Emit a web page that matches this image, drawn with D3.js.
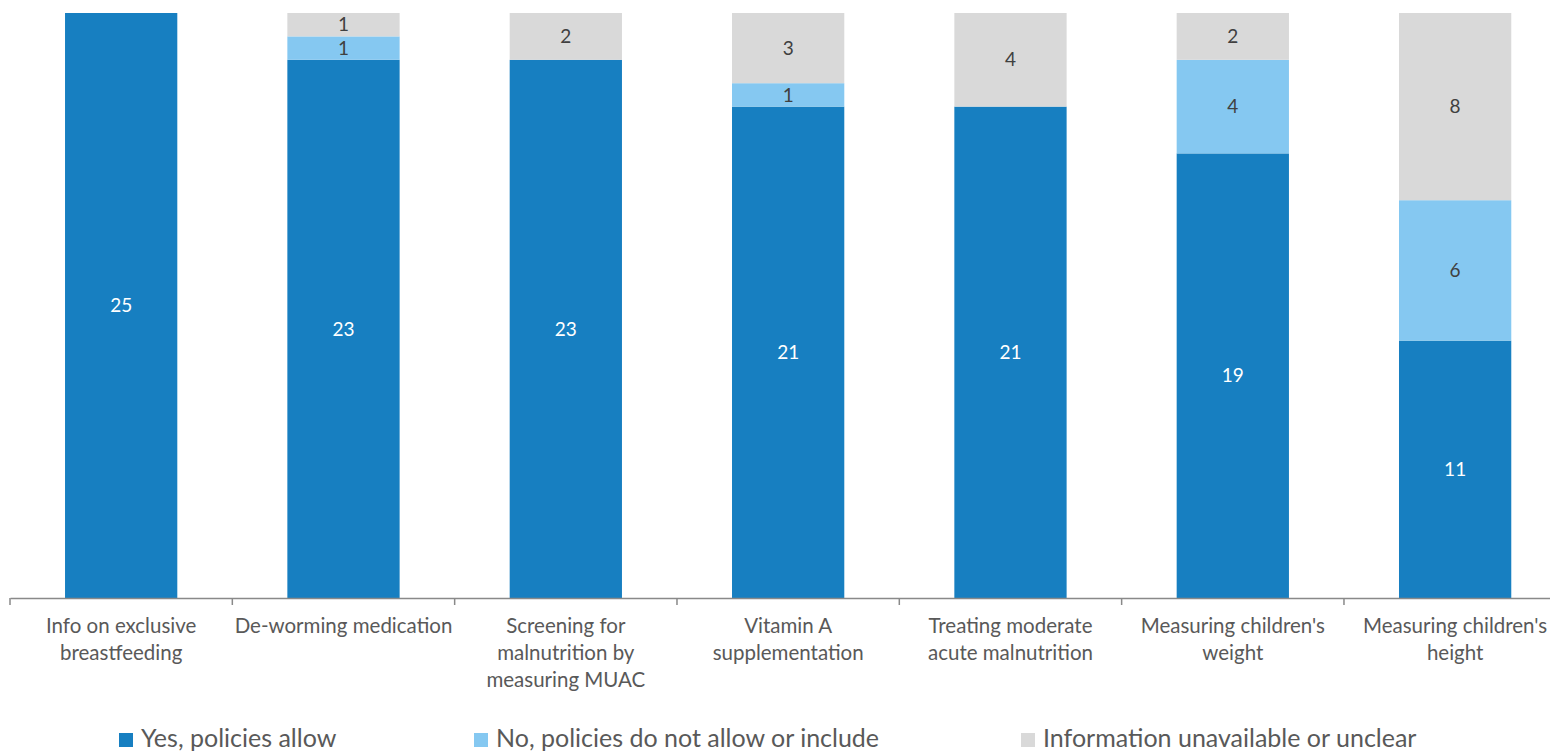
<!DOCTYPE html>
<html><head><meta charset="utf-8">
<script src="https://cdn.jsdelivr.net/npm/d3@7"></script>
<style>
html,body{margin:0;padding:0;background:#fff;}
svg{display:block;font-family:Lato, "Noto Sans", sans-serif;}
</style></head>
<body><svg id="chart" width="1550" height="755"></svg>
<script>
const categories = [
  ["Info on exclusive","breastfeeding"],
  ["De-worming medication"],
  ["Screening for","malnutrition by","measuring MUAC"],
  ["Vitamin A","supplementation"],
  ["Treating moderate","acute malnutrition"],
  ["Measuring children's","weight"],
  ["Measuring children's","height"]
];
const seriesNames = ["Yes, policies allow","No, policies do not allow or include","Information unavailable or unclear"];
const yesValues = [25,23,23,21,21,19,11];
const noValues = [0,1,0,1,0,4,6];
const unclearValues = [0,1,2,3,4,2,8];
const colors = ["#177FC1","#85C8F1","#D9D9D9"];
const labelColors = ["#ffffff","#404040","#404040"];

const svg = d3.select("#chart");
const keys = categories.map((c,i)=>"c"+i);
const x = d3.scaleBand().domain(keys).range([10,1566.3]).paddingInner(0.495).paddingOuter(0.2475);
const y = d3.scaleLinear().domain([0,25]).range([598,13]);

const rows = keys.map((k,i)=>({key:k, s0:yesValues[i], s1:noValues[i], s2:unclearValues[i]}));
const stack = d3.stack().keys(["s0","s1","s2"])(rows);

const g = svg.append("g");
stack.forEach((layer,si)=>{
  const lg = g.append("g");
  lg.selectAll("rect").data(layer).join("rect")
    .attr("x",d=>x(d.data.key))
    .attr("width",x.bandwidth())
    .attr("y",d=>y(d[1]))
    .attr("height",d=>y(d[0])-y(d[1]))
    .attr("fill",colors[si]);
  lg.selectAll("text").data(layer.filter(d=>d[1]-d[0]>0)).join("text")
    .attr("x",d=>x(d.data.key)+x.bandwidth()/2)
    .attr("y",d=>(y(d[0])+y(d[1]))/2)
    .attr("dy","0.35em")
    .attr("text-anchor","middle")
    .attr("font-size",19)
    .attr("fill",labelColors[si])
    .text(d=>d[1]-d[0]);
});

// axis
const axis = d3.axisBottom(x).tickSize(0).tickFormat("");
const ax = svg.append("g").attr("transform","translate(0,598)").call(axis);
ax.select(".domain").attr("stroke","#898989").attr("stroke-width",1.5);
const step = x.step();
const tickPos = d3.range(keys.length+1).map(i=>10+i*step);
svg.append("g").selectAll("line").data(tickPos).join("line")
  .attr("x1",d=>d).attr("x2",d=>d).attr("y1",598).attr("y2",605)
  .attr("stroke","#898989").attr("stroke-width",1.5);

// category labels
const cl = svg.append("g");
categories.forEach((lines,i)=>{
  const t = cl.append("text")
    .attr("x",x(keys[i])+x.bandwidth()/2)
    .attr("y",633)
    .attr("text-anchor","middle")
    .attr("font-size",20.5)
    .attr("fill","#595959");
  lines.forEach((ln,j)=>t.append("tspan").attr("x",x(keys[i])+x.bandwidth()/2).attr("y",633+j*27).text(ln));
});

// legend
const legendX = [119,474,1021];
const lgd = svg.append("g");
seriesNames.forEach((n,i)=>{
  lgd.append("rect").attr("x",legendX[i]).attr("y",733).attr("width",14).attr("height",14).attr("fill",colors[i]);
  lgd.append("text").attr("x",legendX[i]+22).attr("y",747).attr("font-size",25).attr("fill","#595959").text(n);
});
</script></body></html>
